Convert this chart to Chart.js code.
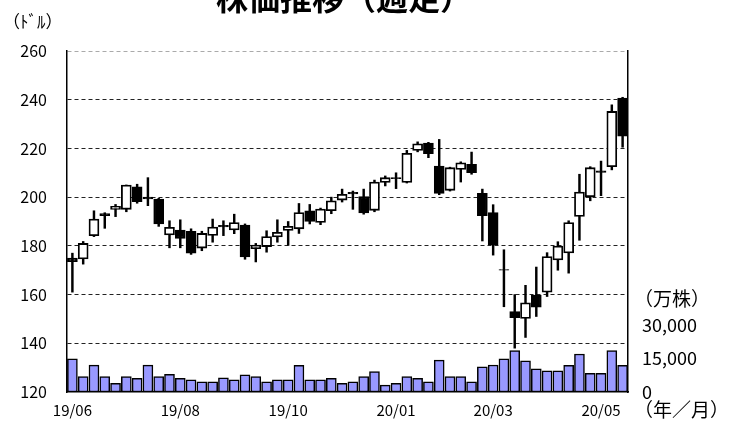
<!DOCTYPE html>
<html>
<head>
<meta charset="utf-8">
<script src="https://cdn.jsdelivr.net/npm/chart.js@4.4.0/dist/chart.umd.min.js"></script>
<style>
  html, body { margin: 0; padding: 0; background: #fff; }
</style>
</head>
<body>
<canvas id="stockChart" width="745" height="425"></canvas>
<script>
// === Weekly data (2019/06 - 2020/05) ===
const tickLabels = [
  '19/06', '', '', '', '', '', '', '', '', '',
  '19/08', '', '', '', '', '', '', '', '', '',
  '19/10', '', '', '', '', '', '', '', '', '',
  '20/01', '', '', '', '', '', '', '', '', '20/03',
  '', '', '', '', '', '', '', '', '', '20/05',
  '', ''
];
const opens  = [175, 174.6, 184.2, 193.3, 195, 195, 204.2, 200, 199.2, 184.5,
                186.5, 186, 179.1, 184.3, 188.4, 186.5, 188.5, 178.8, 179.7, 183.7,
                186.3, 187, 194.4, 189.6, 194.4, 198.8, 202, 200.2, 194.6, 206,
                208, 206, 219.2, 222.2, 212.8, 202.8, 211.4, 213.5, 201.6, 193.7,
                170.3, 153, 150.2, 159.8, 161, 174.2, 177.1, 192.1, 200.2, 210.8,
                212.5, 240.7];
const highs  = [177, 181.8, 194.4, 193.6, 197, 205, 205.3, 208, 199.5, 190.3,
                190.7, 187, 186, 191, 190.3, 193, 189, 181, 186.2, 190.7,
                190, 197.4, 197, 195.5, 200, 203.3, 202.5, 203.3, 207, 208.7,
                210, 219.2, 222.7, 222.5, 223.7, 212.3, 214.5, 218.5, 203.3, 196.9,
                178.4, 160, 163.8, 171.3, 177.2, 181.7, 190.3, 209.4, 212.5, 214.8,
                237.9, 241];
const lows   = [161, 172.5, 183.8, 187.2, 192, 194, 197.5, 196.5, 188, 179.2,
                179.2, 176.5, 178, 181.5, 184.2, 185, 174.5, 173.4, 177.4, 181.5,
                180.2, 185.1, 189, 188.7, 193.2, 198, 195, 193, 194, 204.6,
                203.5, 205.8, 218.6, 216.2, 201, 202.5, 206.2, 209.4, 182, 176.2,
                155, 138, 142.4, 151, 159.2, 170, 168.8, 182.3, 198.5, 200.6,
                211.2, 220.5];
const closes = [173.5, 181, 191, 192.4, 196.2, 205, 198.1, 199.3, 189, 187.6,
                183.1, 177, 185.1, 187.7, 187.8, 189.6, 175.5, 180.3, 183.8, 185.6,
                188, 193.7, 190, 195.1, 198.5, 201.2, 201.3, 193.5, 206.2, 208,
                207.6, 218, 221.9, 217.8, 201.5, 212.1, 214.1, 210, 192.4, 180.4,
                170, 150.5, 156.6, 154.8, 175.6, 179.9, 189.6, 202.1, 212.1, 210.2,
                235.2, 225];
// 出来高（万株）
const volumes = [14800, 6900, 12000, 6900, 3900, 6900, 6100, 12000, 6900, 7900,
                 6100, 5400, 4600, 4600, 6400, 5400, 7700, 6900, 4600, 5400,
                 5400, 11900, 5400, 5400, 6100, 3900, 4600, 6900, 9100, 3100,
                 3900, 6900, 6100, 4600, 14300, 6900, 6900, 4600, 11300, 12100,
                 14900, 18500, 14000, 10400, 9500, 9500, 11900, 17000, 8400, 8400,
                 18500, 11900];
const volumeTicks = [0, 15000, 30000];

const FONT = '"Noto Sans CJK JP", "Liberation Sans", sans-serif';

// === Extra texts: title and axis units ===
const textPlugin = {
  id: 'texts',
  afterDraw(chart) {
    const ctx = chart.ctx;
    ctx.save();
    ctx.fillStyle = '#000';
    ctx.textBaseline = 'alphabetic';
    ctx.textAlign = 'center';
    ctx.font = 'bold 32px ' + FONT;
    ctx.fillText('株価推移（週足）', 344, 10);

    ctx.textBaseline = 'middle';
    ctx.textAlign = 'left';
    ctx.font = '17px ' + FONT;
    ctx.fillText('（ﾄﾞﾙ）', 3, 22);
    ctx.font = '19px ' + FONT;
    ctx.fillText('（万株）', 634, 299);
    ctx.fillText('（年／月）', 634, 410);
    ctx.restore();
  }
};

const ctx = document.getElementById('stockChart').getContext('2d');
new Chart(ctx, {
  type: 'bar',
  data: {
    labels: tickLabels,
    datasets: [
      {
        label: '出来高',
        data: volumes,
        yAxisID: 'y2',
        backgroundColor: '#9999ff',
        borderColor: '#000',
        borderWidth: 1.5,
        borderSkipped: false,
        barThickness: 10,
        grouped: false,
        order: 3
      },
      {
        label: '高値・安値',
        data: highs.map((h, i) => [lows[i], h]),
        yAxisID: 'y',
        backgroundColor: '#000',
        barThickness: 1.8,
        grouped: false,
        order: 2
      },
      {
        label: '始値・終値',
        data: opens.map((o, i) => [o, closes[i]]),
        yAxisID: 'y',
        backgroundColor: opens.map((o, i) => closes[i] >= o ? '#fff' : '#000'),
        borderColor: '#000',
        borderWidth: 1.8,
        borderSkipped: false,
        barThickness: 10,
        grouped: false,
        order: 1
      }
    ]
  },
  options: {
    responsive: false,
    animation: false,
    layout: { padding: { top: 51 } },
    plugins: {
      legend: { display: false },
      tooltip: { enabled: false }
    },
    scales: {
      x: {
        offset: true,
        grid: { display: false, drawTicks: false },
        border: { display: true, color: '#000', width: 1.5 },
        ticks: {
          autoSkip: false,
          maxRotation: 0,
          padding: 9,
          color: '#000',
          font: { family: FONT, size: 15 }
        },
        afterFit(scale) { scale.height = 33; }
      },
      y: {
        position: 'left',
        min: 120,
        max: 260,
        ticks: {
          stepSize: 20,
          padding: 20,
          color: '#000',
          font: { family: FONT, size: 16 }
        },
        grid: {
          drawTicks: false,
          lineWidth: 1,
          color: c => c.tick.value === 260 ? '#aaaaaa' : (c.tick.value === 120 ? 'rgba(0,0,0,0)' : '#222')
        },
        border: { display: true, color: '#000', width: 1.5, dash: [4, 3] },
        afterFit(scale) { scale.width = 67; }
      },
      y2: {
        position: 'right',
        min: 0,
        max: 152700,
        afterBuildTicks(scale) {
          scale.ticks = volumeTicks.map(v => ({ value: v }));
        },
        ticks: {
          padding: 14,
          color: '#000',
          font: { family: FONT, size: 18 },
          callback: v => v.toLocaleString('en-US')
        },
        grid: { display: false, drawTicks: false },
        border: { display: true, color: '#000', width: 1.5 },
        afterFit(scale) { scale.width = 117; }
      }
    }
  },
  plugins: [textPlugin]
});
</script>
</body>
</html>
